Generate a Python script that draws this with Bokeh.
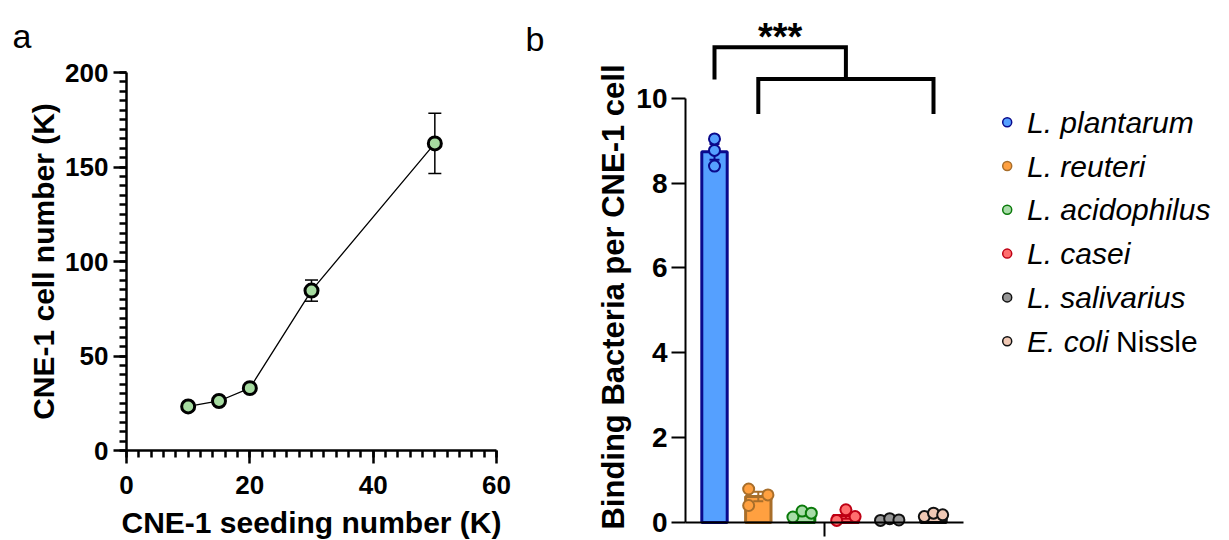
import math
import numpy as np
from bokeh.plotting import figure
from bokeh.layouts import row
from bokeh.models import Range1d, SingleIntervalTicker, FixedTicker, Label
from bokeh.core.properties import value
from bokeh.embed import file_html
from bokeh.resources import INLINE

FONT = "Liberation Sans"

# ---------------- data: panel a ----------------
seeding_k = [10, 15, 20, 30, 50]
cell_number_k = [23.3, 26.2, 33.0, 84.6, 162.5]
cell_number_err = [1.2, 1.5, 1.5, 5.6, 16.0]

# ---------------- data: panel b ----------------
strain_italic = ["L. plantarum", "L. reuteri", "L. acidophilus", "L. casei", "L. salivarius", "E. coli"]
strain_plain = ["", "", "", "", "", "Nissle"]
rep1 = [9.04, 0.79, 0.13, 0.05, 0.05, 0.14]
rep2 = [8.77, 0.65, 0.27, 0.30, 0.09, 0.22]
rep3 = [8.40, 0.40, 0.22, 0.14, 0.06, 0.18]
jitter1 = [0.0, -0.22, -0.21, -0.21, -0.21, -0.21]
jitter2 = [0.0, 0.22, 0.0, 0.0, 0.0, 0.0]
jitter3 = [0.0, -0.22, 0.21, 0.21, 0.21, 0.21]
fill_colors = ["#55A0FF", "#FFA040", "#A8DCA8", "#FF6E6E", "#969696", "#F0C8B4"]
line_colors = ["#0A0A8C", "#A86E2A", "#0A7A0A", "#BE0014", "#111111", "#111111"]
significance = "***"

# ================= panel a =================
# frame covers the whole figure; axes are pinned with fixed_location
A_W, A_H = 520, 540
A_X0_PX, A_PX_X = 126, 370 / 60.0
A_Y0_PX, A_PX_Y = 450, 378 / 200.0

pa = figure(width=A_W, height=A_H, min_border=0,
            x_range=Range1d(-A_X0_PX / A_PX_X, (A_W - A_X0_PX) / A_PX_X),
            y_range=Range1d((A_Y0_PX - A_H) / A_PX_Y, A_Y0_PX / A_PX_Y),
            output_backend="svg", toolbar_location=None)
pa.title.visible = False
pa.xgrid.visible = False
pa.ygrid.visible = False
pa.outline_line_color = None

for ax in (pa.xaxis[0], pa.yaxis[0]):
    ax.fixed_location = 0
    ax.axis_line_width = 2.5
    ax.major_tick_line_width = 2.5
    ax.minor_tick_line_width = 2.5
    ax.major_tick_out = 13
    ax.major_tick_in = 0
    ax.minor_tick_out = 7
    ax.minor_tick_in = 0
    ax.major_label_text_font = FONT
    ax.major_label_text_font_style = "bold"
    ax.major_label_text_font_size = "26px"
    ax.major_label_text_color = "black"
    ax.axis_label_text_font = FONT
    ax.axis_label_text_font_style = "bold"
    ax.axis_label_text_font_size = "30px"
    ax.axis_label_text_color = "black"
pa.xaxis.ticker = SingleIntervalTicker(interval=20, num_minor_ticks=10)
pa.yaxis.ticker = SingleIntervalTicker(interval=50, num_minor_ticks=10)
pa.xaxis.bounds = (0, 60)
pa.yaxis.bounds = (0, 200)
pa.xaxis.axis_label = "CNE-1 seeding number (K)"
pa.yaxis.axis_label = "CNE-1 cell number (K)"
pa.xaxis.major_label_standoff = 12
pa.yaxis.major_label_standoff = 5
pa.xaxis.axis_label_standoff = 9
pa.yaxis.axis_label_standoff = 2

lo = [m - e for m, e in zip(cell_number_k, cell_number_err)]
hi = [m + e for m, e in zip(cell_number_k, cell_number_err)]
pa.segment(x0=seeding_k, y0=lo, x1=seeding_k, y1=hi, line_color="black", line_width=1.5)
pa.scatter(x=seeding_k + seeding_k, y=lo + hi, marker="dash", size=13,
           line_color="black", line_width=1.5)
pa.line(x=seeding_k, y=cell_number_k, line_color="black", line_width=1.3)
pa.scatter(x=seeding_k, y=cell_number_k, size=13, fill_color="#A6DBA0",
           line_color="black", line_width=3)

pa.add_layout(Label(x=(12 - A_X0_PX) / A_PX_X, y=(A_Y0_PX - 35.5) / A_PX_Y, text="a",
                    text_font=FONT, text_font_size="34px", text_color="black",
                    text_align="left", text_baseline="alphabetic"))

# ================= panel b =================
B_LEFT, B_W, B_H = 520, 709, 540
PX_X, CAT1_PX = 43.8, 714      # pixels per category, page x of first category
PX_Y, Y0_PX = 42.43, 522       # pixels per unit, page y of zero


def bx(px):
    return 1 + (px - CAT1_PX) / PX_X


def by(py):
    return (Y0_PX - py) / PX_Y


pb = figure(width=B_W, height=B_H, min_border=0,
            x_range=Range1d(bx(B_LEFT), bx(B_LEFT + B_W)),
            y_range=Range1d(by(B_H), by(0)),
            output_backend="svg", toolbar_location=None)
pb.title.visible = False
pb.xgrid.visible = False
pb.ygrid.visible = False
pb.outline_line_color = None

axis_x = bx(685)
yax = pb.yaxis[0]
yax.fixed_location = axis_x
yax.ticker = FixedTicker(ticks=[0, 2, 4, 6, 8, 10], minor_ticks=[])
yax.bounds = (0, 10)
yax.axis_line_width = 2
yax.major_tick_line_width = 2
yax.major_tick_out = 14
yax.major_tick_in = 0
yax.minor_tick_out = 0
yax.major_label_text_font = FONT
yax.major_label_text_font_style = "bold"
yax.major_label_text_font_size = "28px"
yax.major_label_text_color = "black"
yax.major_label_standoff = 4

xax = pb.xaxis[0]
xax.fixed_location = 0
xax.ticker = FixedTicker(ticks=[3.5], minor_ticks=[])
xax.major_label_overrides = {3.5: ""}
xax.bounds = (axis_x, bx(963.3))
xax.axis_line_width = 2
xax.major_tick_line_width = 2
xax.major_tick_out = 14
xax.major_tick_in = 0
xax.minor_tick_out = 0
xax.major_label_standoff = 0

cats = np.arange(1, 7)
reps = np.array([rep1, rep2, rep3])
means = reps.mean(axis=0)
sems = reps.std(axis=0, ddof=1) / math.sqrt(reps.shape[0])

pb.vbar(x=cats, top=means, bottom=0, width=0.58, fill_color=fill_colors,
        line_color=line_colors, line_width=3)
pb.segment(x0=cats, y0=means - sems, x1=cats, y1=means + sems,
           line_color=line_colors, line_width=2)
pb.scatter(x=np.concatenate([cats, cats]), y=np.concatenate([means - sems, means + sems]),
           marker="dash", size=10, line_color=line_colors + line_colors, line_width=2)
for vals, jit in ((rep1, jitter1), (rep2, jitter2), (rep3, jitter3)):
    pb.scatter(x=cats + np.array(jit), y=vals, size=11, fill_color=fill_colors,
               line_color=line_colors, line_width=2)

# significance bracket: L. plantarum vs all other strains
pb.multi_line(xs=[[1, 1, 4, 4], [2, 2, 6, 6]],
              ys=[[10.44, 11.20, 11.20, 10.45], [9.63, 10.45, 10.45, 9.63]],
              line_color="black", line_width=4, line_join="miter")
pb.text(x=[2.5], y=[by(36)], text=[significance], text_font=value(FONT),
        text_font_style="bold", text_font_size="38px", text_align="center",
        text_baseline="alphabetic", text_color="black")

# legend
leg_y = [by(121.7 + i * 43.8) for i in range(len(strain_italic))]
pb.scatter(x=[bx(1006.7)] * 6, y=leg_y, size=9, fill_color=fill_colors,
           line_color=line_colors, line_width=1.5)
pb.text(x=[bx(1026.5)] * 6, y=leg_y, text=strain_italic, text_font=value(FONT),
        text_font_style="italic", text_font_size="30px", text_align="left",
        text_baseline="middle", text_color="black")
plain_idx = [i for i, s in enumerate(strain_plain) if s]
pb.text(x=[bx(1026.5)] * len(plain_idx), y=[leg_y[i] for i in plain_idx],
        text=[strain_plain[i] for i in plain_idx], x_offset=89, text_font=value(FONT),
        text_font_style="normal", text_font_size="30px", text_align="left",
        text_baseline="middle", text_color="black")

pb.add_layout(Label(x=bx(613), y=by(296.5),
                    text="Binding Bacteria per CNE-1 cell", angle=math.pi / 2,
                    text_font=FONT, text_font_style="bold", text_font_size="31px",
                    text_color="black", text_align="center", text_baseline="middle"))
pb.add_layout(Label(x=bx(525), y=by(38), text="b",
                    text_font=FONT, text_font_size="34px", text_color="black",
                    text_align="left", text_baseline="alphabetic"))

layout = row(pa, pb)
open("out.html", "w").write(file_html(layout, INLINE))
